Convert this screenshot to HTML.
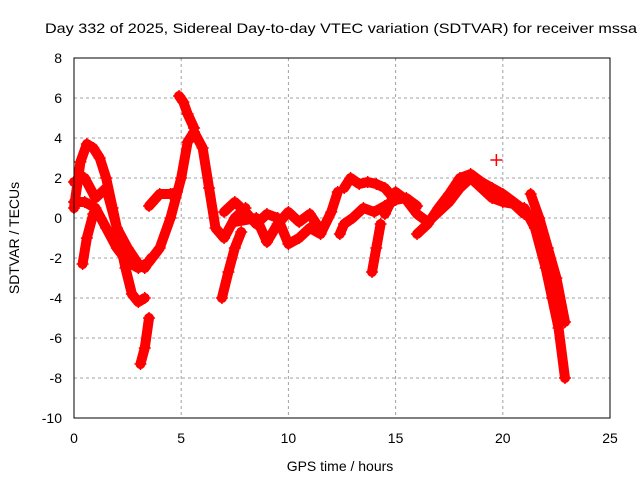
<!DOCTYPE html>
<html><head><meta charset="utf-8"><style>
body{margin:0;background:#fff}
svg{display:block;font-family:"Liberation Sans",sans-serif}
</style></head><body>
<svg id="chart" width="640" height="480">
<text x="45" y="33" font-size="14" textLength="592" lengthAdjust="spacingAndGlyphs">Day 332 of 2025, Sidereal Day-to-day VTEC variation (SDTVAR) for receiver mssa</text>
<text x="340" y="471" font-size="14" text-anchor="middle">GPS time / hours</text>
<text transform="translate(19,238) rotate(-90)" font-size="14" text-anchor="middle">SDTVAR / TECUs</text>
<g id="grid"></g><g id="ticks"></g><g id="marks"></g>
<rect x="74" y="58" width="536" height="360" fill="none" stroke="#000"/>
</svg>
<script>
const xTicks=[0,5,10,15,20,25];
const yTicks=[-10,-8,-6,-4,-2,0,2,4,6,8];
const t1h=[0,0.3,0.6,0.9,1.2,1.5,1.8,2.1,2.4,2.7,3.0,3.3];
const t1v=[0.5,2.8,3.7,3.5,3.0,2.0,0.5,-1.0,-2.5,-3.8,-4.2,-4.0];
const t2h=[0,0.5,1.0,1.5,2.0,2.5,3.0,3.3,3.6];
const t2v=[1.8,2.0,1.0,1.5,-0.5,-1.5,-2.3,-2.5,-2.0];
const t3h=[0,0.5,1.0,1.5,2.0,2.5,3.0,3.5,4.0,4.5,5.0,5.3,5.6,6.0,6.3,6.6,7.0,7.5,8.0];
const t3v=[0.8,0.8,0.5,-0.5,-1.5,-2.2,-2.5,-2.2,-1.5,0,2.0,3.8,4.3,3.5,1.5,-0.5,-1.0,0,0.5];
const t4h=[0.4,0.6,0.9];
const t4v=[-2.3,-1,0.2];
const t5h=[3.1,3.3,3.5];
const t5v=[-7.3,-6.5,-5];
const t6h=[3.5,4.0,4.5,4.8];
const t6v=[0.6,1.2,1.2,1.3];
const t7h=[4.9,5.1,5.3,5.6];
const t7v=[6.1,5.8,5.2,4.5];
const t8h=[6.9,7.2,7.5,7.8];
const t8v=[-4.0,-2.7,-1.5,-0.7];
const t9h=[7.0,7.5,8,8.5,9,9.5,10,10.5,11,11.5,12,12.3];
const t9v=[0.3,0.8,0.3,-0.3,0.2,0,-1.3,-1,-0.5,-0.8,0.3,1.3];
const t10h=[7.5,8.5,9,9.5,10,10.5,11,11.5];
const t10v=[-0.2,0,-1.2,-0.3,0.3,-0.2,0.2,-0.6];
const t11h=[12.4,12.6,13,13.5,14,14.5,15,15.5,16];
const t11v=[-0.8,-0.3,0,0.5,0.3,0.6,0.9,1.0,0.6];
const t12h=[12.6,12.9,13.3,13.7,14.1,14.5,14.9];
const t12v=[1.5,2.0,1.7,1.8,1.7,1.5,1.0];
const t13h=[13.9,14.1,14.3];
const t13v=[-2.7,-1.5,-0.3];
const t14h=[14.5,15,15.5,16,16.5,17,17.5,18,18.5,19,19.5,20,20.5,21];
const t14v=[0.2,1.3,0.9,0.2,-0.2,0.3,0.8,1.5,2.0,1.5,1.0,0.8,0.7,0.2];
const t15h=[16,16.5,17,17.5,18,18.5,19,19.5,20,20.5,21,21.5];
const t15v=[-0.8,-0.3,0.5,1.2,2.0,2.2,1.8,1.5,1.2,0.8,0.4,-0.2];
const t16h=[21,21.5,22,22.3,22.6,22.9];
const t16v=[0.5,-0.5,-2.5,-4,-5.5,-8];
const t17h=[21.3,21.7,22.1,22.5,22.9];
const t17v=[1.2,0,-1.5,-3,-5.2];
const t18h=[19.7];
const t18v=[2.9];
const tracks=[[t1h,t1v],[t2h,t2v],[t3h,t3v],[t4h,t4v],[t5h,t5v],[t6h,t6v],[t7h,t7v],[t8h,t8v],[t9h,t9v],[t10h,t10v],[t11h,t11v],[t12h,t12v],[t13h,t13v],[t14h,t14v],[t15h,t15v],[t16h,t16v],[t17h,t17v],[t18h,t18v]];
const X=h=>74+h*536/25, Y=v=>418-(v+10)*20;
const NS="http://www.w3.org/2000/svg";
const grid=document.getElementById('grid'),ticks=document.getElementById('ticks'),marks=document.getElementById('marks');
function mk(tag,attrs,parent){const e=document.createElementNS(NS,tag);for(const k in attrs)e.setAttribute(k,attrs[k]);parent.appendChild(e);return e;}
xTicks.forEach(t=>{
  if(t>0&&t<25){const g=mk('line',{x1:X(t),x2:X(t),y1:58,y2:418,stroke:'#a0a0a0','stroke-dasharray':'3,3'},grid);
  }
  const l=mk('text',{x:X(t),y:443,'font-size':14,'text-anchor':'middle'},ticks);l.textContent=t;
  
  
});
yTicks.forEach(t=>{
  if(t>-10&&t<8){const g=mk('line',{x1:74,x2:610,y1:Y(t),y2:Y(t),stroke:'#a0a0a0','stroke-dasharray':'3,3'},grid);
  }
  const l=mk('text',{x:62,y:Y(t)+5,'font-size':14,'text-anchor':'end'},ticks);l.textContent=t;
  
  
});
tracks.forEach(([hs,vs])=>{
  const p=mk('polyline',{points:hs.map((h,i)=>X(h)+','+Y(vs[i])).join(' '),fill:'none',stroke:'#f00','stroke-width':10,'stroke-linejoin':'round','stroke-linecap':'round'},marks);
  
  
  hs.forEach((h,i)=>{
    const m=mk('path',{d:`M${X(h)-6},${Y(vs[i])}h12M${X(h)},${Y(vs[i])-6}v12`,stroke:'#f00','stroke-width':1.5},marks);
    
    
  });
});
</script>
</body></html>
